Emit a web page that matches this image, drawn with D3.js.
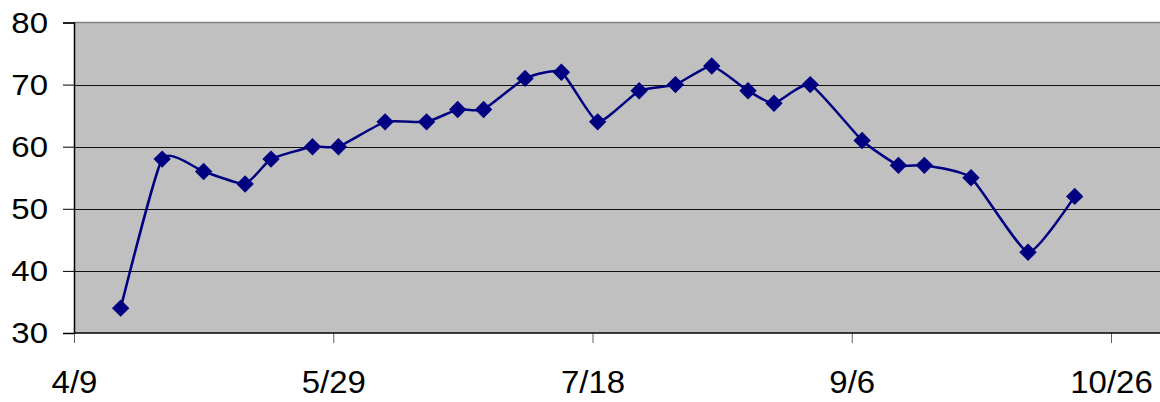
<!DOCTYPE html>
<html><head><meta charset="utf-8">
<script src="https://cdn.jsdelivr.net/npm/d3@7"></script>
<style>html,body{margin:0;padding:0;background:#fff;}svg{display:block;}</style>
</head><body>
<svg id="c" width="1160" height="402"></svg>
<script>
const dates = ["4/18","4/26","5/4","5/12","5/17","5/25","5/30","6/8","6/16","6/22","6/27","7/5","7/12","7/19","7/27","8/3","8/10","8/17","8/22","8/29","9/8","9/15","9/20","9/29","10/10","10/19"];
const values = [34,58,56,54,58,60,60,64,64,66,66,71,72,64,69,70,73,69,67,70,61,57,57,55,43,52];
const xTickLabels = ["4/9","5/29","7/18","9/6","10/26"];
const yTicks = [30,40,50,60,70,80];

const YEAR = 2002;
const parse = s => { const [m,d] = s.split("/").map(Number); return new Date(Date.UTC(YEAR, m-1, d)); };

const svg = d3.select("#c");
const mLeft = 74, mRight = 1111, mTop = 22.5, mBottom = 333, plotRight = 1162;
const x = d3.scaleUtc().domain([parse("4/9"), parse("10/26")]).range([mLeft, mRight]);
const y = d3.scaleLinear().domain([30, 80]).range([mBottom, mTop]);
const FONT = "Liberation Sans, Arial, sans-serif";

// plot area
svg.append("rect").attr("x", mLeft).attr("y", mTop).attr("width", plotRight-mLeft).attr("height", mBottom-mTop)
  .attr("fill", "#c0c0c0");
// top border
svg.append("line").attr("x1", mLeft).attr("x2", plotRight).attr("y1", mTop).attr("y2", mTop)
  .attr("stroke", "#808080").attr("stroke-width", 1.5);

// gridlines
svg.append("g").selectAll("line").data(yTicks.filter(v => v>30 && v<80)).join("line")
  .attr("x1", mLeft).attr("x2", plotRight)
  .attr("y1", d => Math.round(y(d))+0.5).attr("y2", d => Math.round(y(d))+0.5)
  .attr("stroke", "#111").attr("stroke-width", 1);

// y axis
const yAxis = d3.axisLeft(y).tickValues(yTicks).tickSize(11).tickPadding(15);
const gy = svg.append("g").attr("transform", `translate(${mLeft},0)`).call(yAxis);
gy.select(".domain").attr("stroke", "#000").attr("stroke-width", 1.5);
gy.selectAll(".tick line").attr("stroke", "#000");
const ySX = 1.1;
gy.selectAll("text").attr("font-family", FONT).attr("font-size", 30).attr("fill", "#000")
  .attr("x", -26 / ySX).attr("transform", `scale(${ySX},1)`);

// x axis
const xAxis = d3.axisBottom(x).tickValues(xTickLabels.map(parse)).tickFormat((d,i) => xTickLabels[i]).tickSize(10).tickPadding(27);
const gx = svg.append("g").attr("transform", `translate(0,${mBottom})`).call(xAxis);
gx.select(".domain").remove();
gx.selectAll(".tick line").attr("stroke", "#606060");
gx.selectAll("text").attr("font-family", FONT).attr("font-size", 32).attr("fill", "#000")
  .attr("transform", "scale(1.03,1)");
svg.append("line").attr("x1", mLeft).attr("x2", plotRight).attr("y1", mBottom).attr("y2", mBottom)
  .attr("stroke", "#000").attr("stroke-width", 1.5);

// line
const pts = dates.map((d,i) => [x(parse(d)), y(values[i])]);
svg.append("path").datum(pts).attr("fill", "none").attr("stroke", "#000080").attr("stroke-width", 2.5)
  .attr("d", d3.line().curve(d3.curveCardinal.tension(0.5)));

// markers
svg.append("g").selectAll("path").data(pts).join("path")
  .attr("transform", d => `translate(${d[0]},${d[1]})`)
  .attr("d", "M0,-8.7L8.7,0L0,8.7L-8.7,0Z").attr("fill", "#000080");
</script>
</body></html>
